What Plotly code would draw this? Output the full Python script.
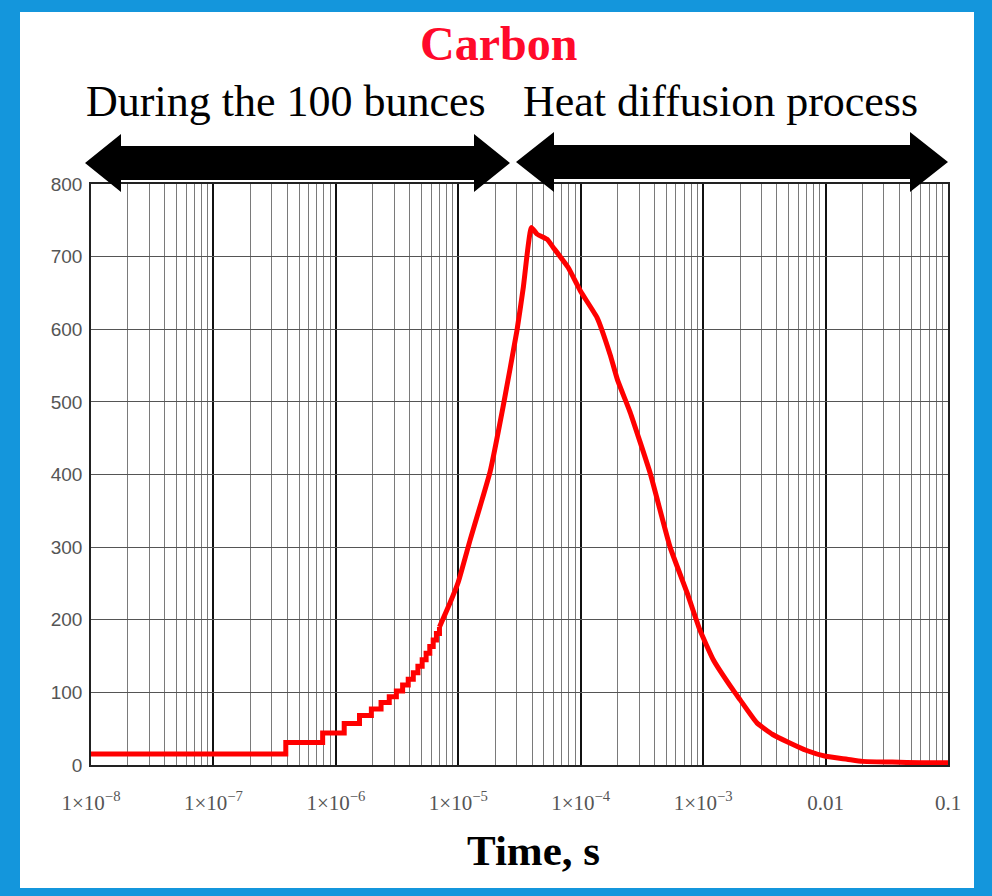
import plotly.graph_objects as go

# ---------------- data ----------------
# staircase part: temperature after each bunch (s, degrees)
step_t = [1e-8, 3.9e-7, 7.8e-7, 1.17e-6, 1.56e-6, 1.95e-6, 2.34e-6, 2.73e-6,
          3.12e-6, 3.51e-6, 3.9e-6, 4.29e-6, 4.68e-6, 5.07e-6, 5.46e-6,
          5.85e-6, 6.24e-6, 6.63e-6, 7.02e-6]
step_T = [15, 31, 44, 57, 68, 77, 86, 94, 102, 110, 118, 127, 136, 145, 154,
          163, 172, 181, 190]

# smooth part: heating to the peak and heat diffusion afterwards
smooth_t = [7.02e-6, 8.5e-6, 1.0e-5, 1.25e-5, 1.5e-5, 1.82e-5, 2.32e-5, 3.02e-5,
            3.4e-5, 3.95e-5, 4.4e-5, 5.3e-5, 6.0e-5, 7.9e-5, 1.0e-4, 1.36e-4,
            1.74e-4, 2.0e-4, 2.53e-4, 3.69e-4, 5.37e-4, 7.4e-4, 9.4e-4,
            1.21e-3, 1.76e-3, 2.0e-3, 2.75e-3, 3.7e-3, 5.0e-3, 7.0e-3, 1.0e-2,
            1.5e-2, 2.0e-2, 3.5e-2, 6.0e-2, 1.0e-1]
smooth_T = [190, 222, 252, 310, 355, 404, 493, 599, 658, 740, 731, 724, 712,
            685, 652, 616, 565, 530, 486, 402, 300, 237, 186, 145, 103, 90, 58,
            42, 31, 20, 12, 8, 5, 4, 3, 3]

x_tickvals = [1e-8, 1e-7, 1e-6, 1e-5, 1e-4, 1e-3, 1e-2, 1e-1]
x_ticktext = ["1×10<sup>−8</sup>", "1×10<sup>−7</sup>", "1×10<sup>−6</sup>",
              "1×10<sup>−5</sup>", "1×10<sup>−4</sup>", "1×10<sup>−3</sup>",
              "0.01", "0.1"]
y_tickvals = [0, 100, 200, 300, 400, 500, 600, 700, 800]

title_text = "Carbon"
left_label = "During the 100 bunces"
right_label = "Heat diffusion process"
x_title = "Time, s"

# minor grid positions 2..9 within each decade
minor_vals = [m * d for d in x_tickvals[:-1] for m in range(2, 10)]

# ---------------- layout geometry (pixels) ----------------
W, H = 992, 896
L, R, T, B = 91, 948, 184, 765
PW, PH = R - L, B - T


def px(x):
    return (x - L) / PW


def py(y):
    return (B - y) / PH


RED = "#ff0000"
BLUE = "#1496dc"

fig = go.Figure()
fig.add_trace(go.Scatter(x=step_t, y=step_T, mode="lines",
                         line=dict(color=RED, width=5, shape="hv"),
                         showlegend=False, hoverinfo="skip"))
fig.add_trace(go.Scatter(x=smooth_t, y=smooth_T, mode="lines",
                         line=dict(color=RED, width=5, shape="spline", smoothing=0.4),
                         showlegend=False, hoverinfo="skip"))


def arrow_path(x0, x1, yc, head_len, head_half, shaft_half):
    pts = [
        (x0, yc),
        (x0 + head_len, yc - head_half),
        (x0 + head_len, yc - shaft_half),
        (x1 - head_len, yc - shaft_half),
        (x1 - head_len, yc - head_half),
        (x1, yc),
        (x1 - head_len, yc + head_half),
        (x1 - head_len, yc + shaft_half),
        (x0 + head_len, yc + shaft_half),
        (x0 + head_len, yc + head_half),
    ]
    return "M " + " L ".join(f"{px(a):.5f},{py(b):.5f}" for a, b in pts) + " Z"


shapes = [
    # white panel inside the blue frame
    dict(type="rect", xref="paper", yref="paper", x0=px(20), x1=px(974),
         y0=py(888), y1=py(12), fillcolor="white", line=dict(width=0), layer="below"),
    dict(type="path", xref="paper", yref="paper",
         path=arrow_path(85, 510, 163, 36, 29, 17),
         fillcolor="black", line=dict(width=0)),
    dict(type="path", xref="paper", yref="paper",
         path=arrow_path(516, 948, 162, 38, 30, 17),
         fillcolor="black", line=dict(width=0)),
]

annotations = [
    dict(text=f"<b>{title_text}</b>", x=px(498), y=py(43), xref="paper", yref="paper",
         showarrow=False, xanchor="center", yanchor="middle",
         font=dict(family="Liberation Serif", size=48, color="#ff0a2a")),
    dict(text=left_label, x=px(84), y=py(101), xref="paper", yref="paper",
         showarrow=False, xanchor="left", yanchor="middle",
         font=dict(family="Liberation Serif", size=44, color="black")),
    dict(text=right_label, x=px(521), y=py(101), xref="paper", yref="paper",
         showarrow=False, xanchor="left", yanchor="middle",
         font=dict(family="Liberation Serif", size=44, color="black")),
    dict(text=f"<b>{x_title}</b>", x=px(533), y=py(850), xref="paper", yref="paper",
         showarrow=False, xanchor="center", yanchor="middle",
         font=dict(family="Liberation Serif", size=43, color="black")),
]

fig.update_layout(
    width=W, height=H,
    margin=dict(l=L, r=W - R, t=T, b=H - B, pad=0),
    paper_bgcolor=BLUE,
    plot_bgcolor="white",
    shapes=shapes,
    annotations=annotations,
    showlegend=False,
    xaxis=dict(
        type="log", range=[-8, -1],
        tickvals=x_tickvals, ticktext=x_ticktext,
        tickfont=dict(family="Liberation Serif", size=21, color="#555555"),
        showgrid=True, gridcolor="#111111", gridwidth=1.5,
        minor=dict(tickvals=minor_vals, showgrid=True, gridcolor="#7a7a7a",
                   gridwidth=1, ticks=""),
        showline=True, linecolor="#222222", linewidth=1.5, mirror=True,
        ticks="", ticklabelstandoff=18, zeroline=False,
    ),
    yaxis=dict(
        range=[0, 800], tickvals=y_tickvals,
        tickfont=dict(family="Liberation Sans", size=19, color="#555555"),
        showgrid=True, gridcolor="#555555", gridwidth=1,
        showline=True, linecolor="#222222", linewidth=1.5, mirror=True,
        ticks="", ticklabelstandoff=3, zeroline=False,
    ),
)

fig.write_html("out.html")
